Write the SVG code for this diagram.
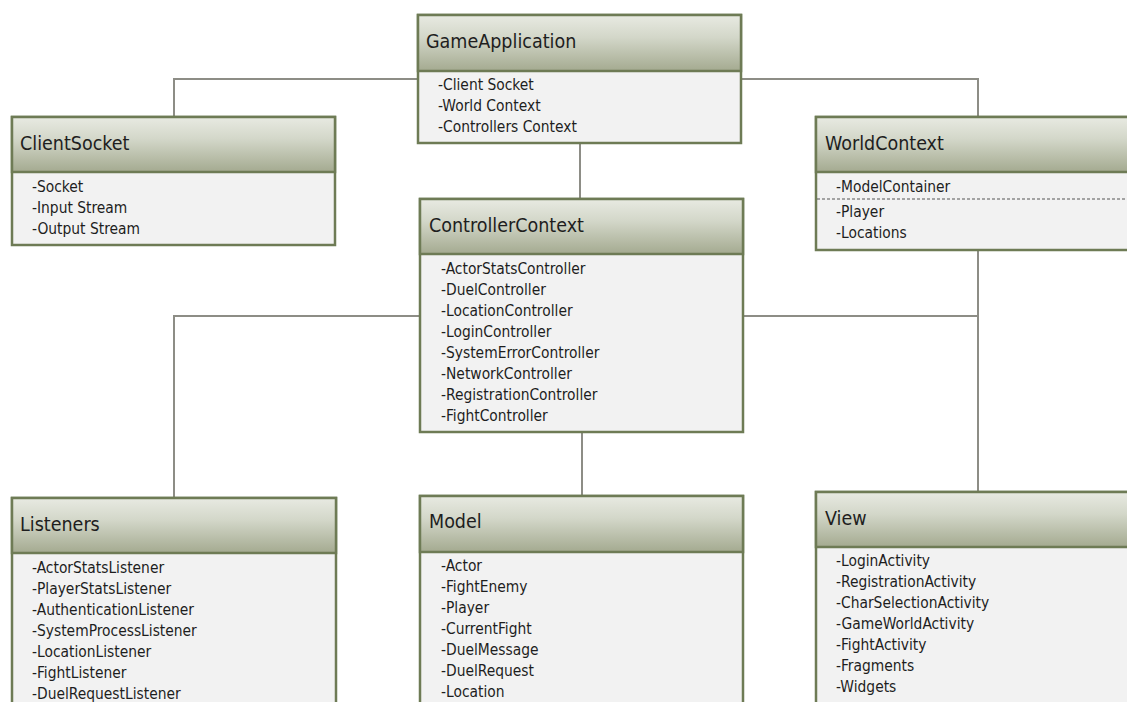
<svg xmlns="http://www.w3.org/2000/svg" width="1127" height="702" viewBox="0 0 1127 702">
  <defs>
    <linearGradient id="hdr" x1="0" y1="0" x2="0" y2="1">
      <stop offset="0" stop-color="#e8eae2"/>
      <stop offset="0.4" stop-color="#d3d7c9"/>
      <stop offset="1" stop-color="#a4aa90"/>
    </linearGradient>
    <style>
      .frame { fill: #f2f2f2; stroke: #6e7b55; stroke-width: 2.5; }
      .head { fill: url(#hdr); stroke: #6e7b55; stroke-width: 2.5; }
      .title { font-family: "DejaVu Sans Condensed", "DejaVu Sans", sans-serif; font-size: 19.5px; fill: #1e1e1e; }
      .attr { font-family: "DejaVu Sans Condensed", "DejaVu Sans", sans-serif; font-size: 15.4px; fill: #1e1e1e; }
      .link { fill: none; stroke: #8d8d86; stroke-width: 2; }
      .sep { stroke: #555; stroke-width: 1; stroke-dasharray: 3 2; }
    </style>
  </defs>
  <rect width="1127" height="702" fill="#ffffff"/>

  <g id="connectors">
    <path class="link" d="M418 79 H174 V117"/>
    <path class="link" d="M741 79 H978 V117"/>
    <path class="link" d="M580 143 V199"/>
    <path class="link" d="M420 316 H174 V498"/>
    <path class="link" d="M743 316 H978"/>
    <path class="link" d="M978 250 V492"/>
    <path class="link" d="M582 432 V496"/>
  </g>

  <g id="GameApplication">
    <rect class="frame" x="418" y="15" width="323" height="128"/>
    <rect class="head" x="418" y="15" width="323" height="56"/>
    <text class="title" x="426" y="48">GameApplication</text>
    <text class="attr" x="438" y="90">-Client Socket</text>
    <text class="attr" x="438" y="111">-World Context</text>
    <text class="attr" x="438" y="132">-Controllers Context</text>
  </g>

  <g id="ClientSocket">
    <rect class="frame" x="12" y="117" width="323" height="128"/>
    <rect class="head" x="12" y="117" width="323" height="55"/>
    <text class="title" x="20" y="150">ClientSocket</text>
    <text class="attr" x="32" y="192">-Socket</text>
    <text class="attr" x="32" y="213">-Input Stream</text>
    <text class="attr" x="32" y="234">-Output Stream</text>
  </g>

  <g id="WorldContext">
    <rect class="frame" x="816" y="117" width="320" height="133"/>
    <rect class="head" x="816" y="117" width="320" height="55"/>
    <text class="title" x="825" y="150">WorldContext</text>
    <text class="attr" x="836" y="192">-ModelContainer</text>
    <line class="sep" x1="817" y1="199" x2="1127" y2="199"/>
    <text class="attr" x="836" y="217">-Player</text>
    <text class="attr" x="836" y="238">-Locations</text>
  </g>

  <g id="ControllerContext">
    <rect class="frame" x="420" y="199" width="323" height="233"/>
    <rect class="head" x="420" y="199" width="323" height="55"/>
    <text class="title" x="429" y="232">ControllerContext</text>
    <text class="attr" x="441" y="274">-ActorStatsController</text>
    <text class="attr" x="441" y="295">-DuelController</text>
    <text class="attr" x="441" y="316">-LocationController</text>
    <text class="attr" x="441" y="337">-LoginController</text>
    <text class="attr" x="441" y="358">-SystemErrorController</text>
    <text class="attr" x="441" y="379">-NetworkController</text>
    <text class="attr" x="441" y="400">-RegistrationController</text>
    <text class="attr" x="441" y="421">-FightController</text>
  </g>

  <g id="Listeners">
    <rect class="frame" x="12" y="498" width="324" height="220"/>
    <rect class="head" x="12" y="498" width="324" height="55"/>
    <text class="title" x="20" y="531">Listeners</text>
    <text class="attr" x="32" y="573">-ActorStatsListener</text>
    <text class="attr" x="32" y="594">-PlayerStatsListener</text>
    <text class="attr" x="32" y="615">-AuthenticationListener</text>
    <text class="attr" x="32" y="636">-SystemProcessListener</text>
    <text class="attr" x="32" y="657">-LocationListener</text>
    <text class="attr" x="32" y="678">-FightListener</text>
    <text class="attr" x="32" y="699">-DuelRequestListener</text>
  </g>

  <g id="Model">
    <rect class="frame" x="420" y="496" width="323" height="220"/>
    <rect class="head" x="420" y="496" width="323" height="56"/>
    <text class="title" x="429" y="528">Model</text>
    <text class="attr" x="441" y="571">-Actor</text>
    <text class="attr" x="441" y="592">-FightEnemy</text>
    <text class="attr" x="441" y="613">-Player</text>
    <text class="attr" x="441" y="634">-CurrentFight</text>
    <text class="attr" x="441" y="655">-DuelMessage</text>
    <text class="attr" x="441" y="676">-DuelRequest</text>
    <text class="attr" x="441" y="697">-Location</text>
  </g>

  <g id="View">
    <rect class="frame" x="816" y="492" width="320" height="220"/>
    <rect class="head" x="816" y="492" width="320" height="55"/>
    <text class="title" x="825" y="525">View</text>
    <text class="attr" x="836" y="566">-LoginActivity</text>
    <text class="attr" x="836" y="587">-RegistrationActivity</text>
    <text class="attr" x="836" y="608">-CharSelectionActivity</text>
    <text class="attr" x="836" y="629">-GameWorldActivity</text>
    <text class="attr" x="836" y="650">-FightActivity</text>
    <text class="attr" x="836" y="671">-Fragments</text>
    <text class="attr" x="836" y="692">-Widgets</text>
  </g>
</svg>
